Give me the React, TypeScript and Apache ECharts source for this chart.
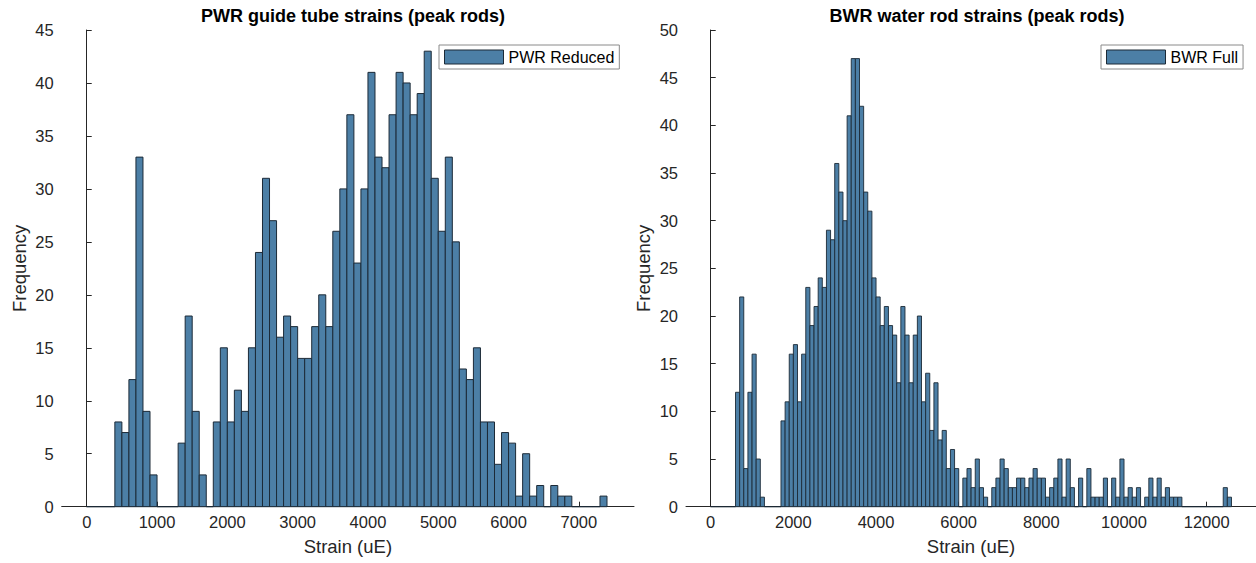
import React, { useEffect, useRef } from "react";
import * as echarts from "echarts";

// ---- data ----
const BIN_WIDTH = 100; // uE per histogram bin, bins start at 0

// PWR guide tube strains: counts for bins 0,100,200,... (74 bins)
const pwrCounts = [
  0, 0, 0, 0, 8, 7, 12, 33, 9, 3,
  0, 0, 0, 6, 18, 9, 3, 0, 8, 15,
  8, 11, 9, 15, 24, 31, 27, 16, 18, 17,
  14, 14, 17, 20, 17, 26, 30, 37, 23, 30,
  41, 33, 32, 37, 41, 40, 37, 39, 43, 31,
  26, 33, 25, 13, 12, 15, 8, 8, 4, 7,
  6, 1, 5, 1, 2, 0, 2, 1, 1, 0,
  0, 0, 0, 1,
];

// BWR water rod strains: counts for bins 0,100,200,... (126 bins)
const bwrCounts = [
  0, 0, 0, 0, 0, 0, 12, 22, 4, 12,
  16, 5, 1, 0, 0, 0, 0, 9, 11, 16,
  17, 11, 16, 23, 19, 21, 24, 23, 29, 28,
  36, 33, 30, 41, 47, 47, 42, 33, 31, 24,
  22, 19, 21, 19, 18, 13, 21, 18, 13, 18,
  20, 11, 14, 8, 13, 7, 8, 4, 6, 4,
  0, 3, 4, 2, 5, 2, 1, 0, 2, 3,
  5, 4, 2, 2, 3, 3, 2, 3, 4, 3,
  3, 1, 2, 3, 5, 1, 5, 2, 0, 3,
  0, 4, 1, 1, 1, 3, 0, 3, 1, 5,
  1, 2, 1, 2, 0, 1, 3, 1, 3, 1,
  2, 1, 1, 1, 0, 0, 0, 0, 0, 0,
  0, 0, 0, 0, 2, 1,
];

const pwrXTicks = [0, 1000, 2000, 3000, 4000, 5000, 6000, 7000];
const bwrXTicks = [0, 2000, 4000, 6000, 8000, 10000, 12000];

const titles = ["PWR guide tube strains (peak rods)", "BWR water rod strains (peak rods)"];
const seriesNames = ["PWR Reduced", "BWR Full"];
const xName = "Strain (uE)";
const yName = "Frequency";

// ---- style ----
const FONT = '"Liberation Sans", Arial, Helvetica, sans-serif';
const BAR_FILL = "#4c7fa6";
const BAR_EDGE = "#1c2a37";
const AXIS_COLOR = "#262626";

function toBins(counts: number[]) {
  return counts.map((c, i) => [i * BIN_WIDTH, c]);
}

function makeRender(lineWidth: number) {
  return (params: any, api: any) => {
    const x0 = api.value(0);
    const h = api.value(1);
    const p0 = api.coord([x0, h]);
    const p1 = api.coord([x0 + BIN_WIDTH, 0]);
    return {
      type: "rect",
      shape: { x: p0[0], y: p0[1], width: p1[0] - p0[0], height: p1[1] - p0[1] },
      style: {
        fill: h > 0 ? BAR_FILL : "none",
        stroke: BAR_EDGE,
        lineWidth,
      },
    };
  };
}

function xAxisCfg(gridIndex: number, min: number, max: number, ticks: number[]) {
  return {
    type: "value",
    gridIndex,
    min,
    max,
    name: xName,
    nameLocation: "middle",
    nameGap: 30,
    nameTextStyle: { fontSize: 18.5, color: AXIS_COLOR, fontFamily: FONT },
    axisLine: { show: true, onZero: false, lineStyle: { color: AXIS_COLOR, width: 1 } },
    axisTick: { show: true, inside: true, length: 5, customValues: ticks, lineStyle: { color: AXIS_COLOR } },
    axisLabel: {
      show: true,
      customValues: ticks,
      margin: 7,
      fontSize: 16.5,
      color: AXIS_COLOR,
      fontFamily: FONT,
      formatter: (v: number) => String(v),
    },
    splitLine: { show: false },
  };
}

function yAxisCfg(gridIndex: number, max: number) {
  return {
    type: "value",
    gridIndex,
    min: 0,
    max,
    interval: 5,
    name: yName,
    nameLocation: "middle",
    nameGap: 33,
    nameTextStyle: { fontSize: 18.5, color: AXIS_COLOR, fontFamily: FONT },
    axisLine: { show: true, lineStyle: { color: AXIS_COLOR, width: 1 } },
    axisTick: { show: true, inside: true, length: 5, lineStyle: { color: AXIS_COLOR } },
    axisLabel: {
      margin: 8,
      fontSize: 16.5,
      color: AXIS_COLOR,
      fontFamily: FONT,
      formatter: (v: number) => String(v),
    },
    splitLine: { show: false },
  };
}

function legendCfg(name: string, left: number) {
  return {
    data: [
      {
        name,
        icon: "rect",
        itemStyle: { color: BAR_FILL, borderColor: BAR_EDGE, borderWidth: 1 },
      },
    ],
    left,
    top: 45,
    orient: "horizontal",
    itemWidth: 59,
    itemHeight: 14,
    itemGap: 5,
    padding: [4, 5, 4, 5],
    borderColor: "#8a8a8a",
    borderWidth: 1,
    backgroundColor: "#fff",
    selectedMode: false,
    textStyle: { fontSize: 16, color: "#000", fontFamily: FONT, lineHeight: 16, padding: [0, 0, 0, 0] },
  };
}

export default function App() {
  const ref = useRef<HTMLDivElement>(null);

  useEffect(() => {
    if (!ref.current) return;
    const chart = echarts.init(ref.current, undefined, { renderer: "svg" });
    const option: any = {
      animation: false,
      backgroundColor: "#fff",
      textStyle: { fontFamily: FONT },
      title: [
        {
          text: titles[0],
          left: 348,
          top: 2,
          textAlign: "center",
          textStyle: { fontSize: 18, fontWeight: "bold", color: "#000", fontFamily: FONT },
        },
        {
          text: titles[1],
          left: 972,
          top: 2,
          textAlign: "center",
          textStyle: { fontSize: 18, fontWeight: "bold", color: "#000", fontFamily: FONT },
        },
      ],
      legend: [legendCfg(seriesNames[0], 439), legendCfg(seriesNames[1], 1101)],
      grid: [
        { left: 61.7, top: 30, width: 572.3, height: 476.7 },
        { left: 686, top: 30, width: 570, height: 476.7 },
      ],
      xAxis: [xAxisCfg(0, -356, 7784, pwrXTicks), xAxisCfg(1, -598, 13193, bwrXTicks)],
      yAxis: [yAxisCfg(0, 45), yAxisCfg(1, 50)],
      series: [
        {
          type: "custom",
          name: seriesNames[0],
          xAxisIndex: 0,
          yAxisIndex: 0,
          data: toBins(pwrCounts),
          encode: { x: 0, y: 1 },
          renderItem: makeRender(1),
          itemStyle: { color: BAR_FILL, borderColor: BAR_EDGE, borderWidth: 1 },
        },
        {
          type: "custom",
          name: seriesNames[1],
          xAxisIndex: 1,
          yAxisIndex: 1,
          data: toBins(bwrCounts),
          encode: { x: 0, y: 1 },
          renderItem: makeRender(0.9),
          itemStyle: { color: BAR_FILL, borderColor: BAR_EDGE, borderWidth: 1 },
        },
      ],
    };
    chart.setOption(option);
    return () => chart.dispose();
  }, []);

  return (
    <div
      ref={ref}
      style={{ position: "fixed", left: 0, top: 0, width: 1256, height: 563, background: "#fff" }}
    />
  );
}
